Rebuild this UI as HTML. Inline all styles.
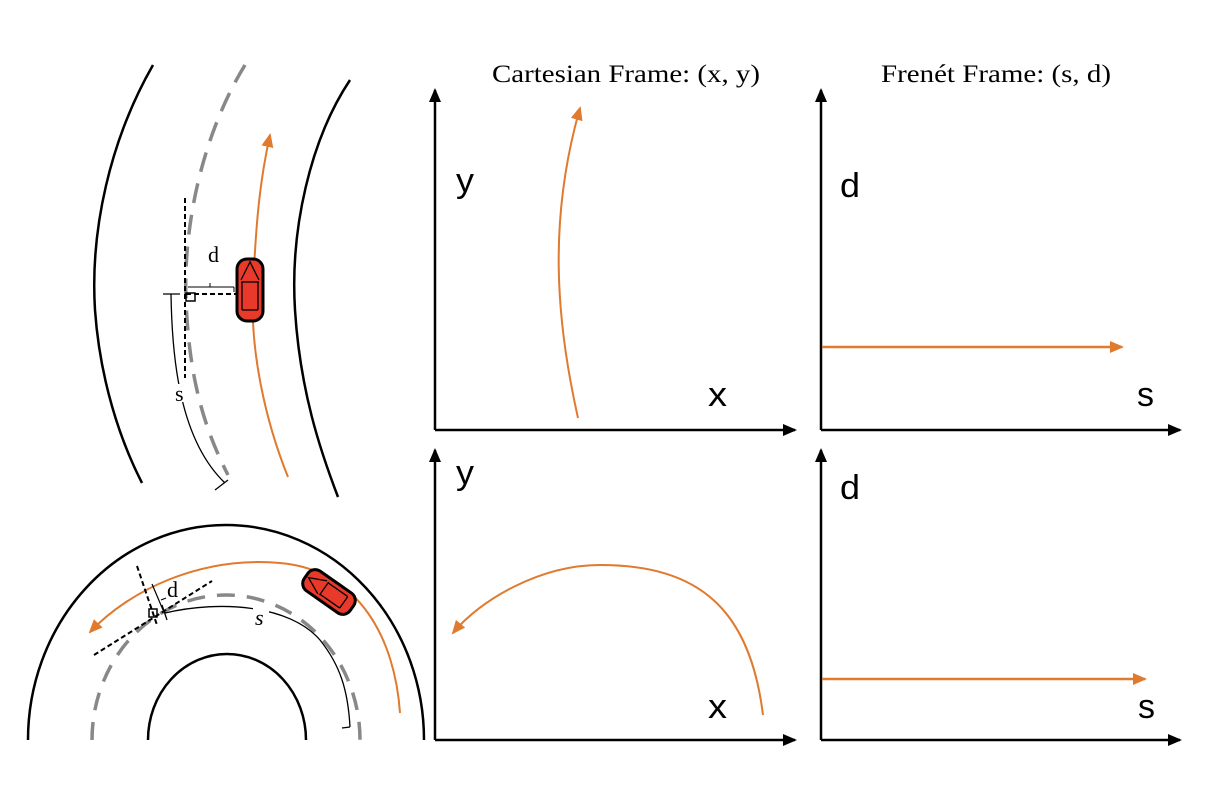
<!DOCTYPE html>
<html><head><meta charset="utf-8"><style>html,body{margin:0;padding:0;background:#fff}svg{display:block}</style></head>
<body>
<svg width="1208" height="796" viewBox="0 0 1208 796" xmlns="http://www.w3.org/2000/svg">
<defs>
<marker id="ab" markerWidth="14" markerHeight="12" refX="12" refY="6" orient="auto" markerUnits="userSpaceOnUse"><path d="M0,0 L14,6 L0,12 z" fill="#000"/></marker>
<marker id="ao" markerWidth="14" markerHeight="12" refX="12" refY="6" orient="auto" markerUnits="userSpaceOnUse"><path d="M0,0 L14,6 L0,12 z" fill="#e07a2e"/></marker>
</defs>
<g font-family="'Liberation Serif',serif" font-size="25" fill="#000">
<text x="492" y="82" textLength="268" lengthAdjust="spacingAndGlyphs">Cartesian Frame: (x, y)</text>
<text x="881" y="82" textLength="230" lengthAdjust="spacingAndGlyphs">Frenét Frame: (s, d)</text>
</g>
<g stroke="#000" stroke-width="2.5" fill="none">
<path d="M435,430 L435,90" marker-end="url(#ab)"/>
<path d="M435,430 L795,430" marker-end="url(#ab)"/>
<path d="M821,430 L821,90" marker-end="url(#ab)"/>
<path d="M821,430 L1180,430" marker-end="url(#ab)"/>
<path d="M435,740 L435,450" marker-end="url(#ab)"/>
<path d="M435,740 L795,740" marker-end="url(#ab)"/>
<path d="M821,740 L821,450" marker-end="url(#ab)"/>
<path d="M821,740 L1180,740" marker-end="url(#ab)"/>
</g>
<g font-family="'Liberation Sans',sans-serif" font-size="34" fill="#000">
<text x="456" y="192" textLength="18" lengthAdjust="spacingAndGlyphs">y</text><text x="708" y="406" textLength="19" lengthAdjust="spacingAndGlyphs">x</text>
<text x="840" y="197" textLength="20" lengthAdjust="spacingAndGlyphs">d</text><text x="1137" y="406" textLength="17" lengthAdjust="spacingAndGlyphs">s</text>
<text x="456" y="484" textLength="18" lengthAdjust="spacingAndGlyphs">y</text><text x="708" y="718" textLength="19" lengthAdjust="spacingAndGlyphs">x</text>
<text x="840" y="499" textLength="20" lengthAdjust="spacingAndGlyphs">d</text><text x="1138" y="718" textLength="17" lengthAdjust="spacingAndGlyphs">s</text>
</g>
<g stroke="#e07a2e" stroke-width="2" fill="none">
<path d="M578,418 C556,320 548,220 580,108" marker-end="url(#ao)"/>
<path d="M822,347 L1122,347" stroke-width="2.5" marker-end="url(#ao)"/>
<path d="M822,679 L1145,679" stroke-width="2.5" marker-end="url(#ao)"/>
<path d="M763,715 C750,610 700,565 600,565 C540,565 480,600 453,633" marker-end="url(#ao)"/>
</g>
<g fill="none">
<path d="M153,65 C110,140 90,230 95,310 C100,380 120,440 142,483" stroke="#000" stroke-width="2.5"/>
<path d="M350,80 C310,140 290,230 295,310 C300,390 320,450 338,497" stroke="#000" stroke-width="2.5"/>
<path d="M245,65 C205,130 183,220 186,300 C189,380 205,430 228,475" stroke="#888" stroke-width="3.5" stroke-dasharray="20,12"/>
<path d="M288,477 C265,420 250,350 253,290 C256,220 260,180 270,135" stroke="#e07a2e" stroke-width="2" marker-end="url(#ao)"/>
<path d="M185,198 L185,378" stroke="#000" stroke-width="2" stroke-dasharray="5,3"/>
<path d="M186,294 L237,294" stroke="#000" stroke-width="2" stroke-dasharray="5,3"/>
<rect x="186" y="293" width="9" height="8" stroke="#000" stroke-width="1.5"/>
<path d="M188,287 L234,287 M210,283 L210,287 M234,287 L234,292" stroke="#000" stroke-width="1"/>
<path d="M163,294 L180,294 M171,294 C172,360 180,440 225,483 M215,490 L228,480" stroke="#000" stroke-width="1.3"/>
</g>
<rect x="174" y="384" width="14" height="18" fill="#fff"/>
<text x="175" y="401" font-family="'Liberation Serif',serif" font-size="22">s</text>
<text x="208" y="262" font-family="'Liberation Serif',serif" font-size="22">d</text>
<g transform="translate(250,290)">
<rect x="-13" y="-31" width="26" height="62" rx="10" fill="#e8392a" stroke="#000" stroke-width="3"/>
<path d="M-9,-10 L0,-28 L9,-10 M-9,-8 L9,-8 M-8,20 L8,20 M-8,-8 L-8,20 M8,-8 L8,20" stroke="#000" stroke-width="1.3" fill="none"/>
</g>
<g fill="none">
<path d="M28,740 A198,215 0 0 1 424,740" stroke="#000" stroke-width="2.5"/>
<path d="M148,740 A79,86 0 0 1 306,740" stroke="#000" stroke-width="2.5"/>
<path d="M92,740 A134,145 0 0 1 360,740" stroke="#888" stroke-width="3.5" stroke-dasharray="18,12"/>
<path d="M400,713 C395,640 360,570 280,563 C200,556 130,590 90,632" stroke="#e07a2e" stroke-width="2" marker-end="url(#ao)"/>
<path d="M137,566 L157,625" stroke="#000" stroke-width="2" stroke-dasharray="5,3"/>
<path d="M94,655 L212,581" stroke="#000" stroke-width="2" stroke-dasharray="5,3"/>
<rect x="149" y="609" width="8" height="8" stroke="#000" stroke-width="1.5"/>
<path d="M152,584 L163,610 M161,600 L166,598" stroke="#000" stroke-width="1.2"/>
<path d="M162,605 L167,620 M165,613 C220,600 290,605 320,640 C340,665 348,690 350,727 M350,727 L342,728" stroke="#000" stroke-width="1.3"/>
</g>
<rect x="253" y="606" width="16" height="20" fill="#fff"/>
<text x="255" y="625" font-family="'Liberation Serif',serif" font-style="italic" font-size="22">s</text>
<text x="167" y="597" font-family="'Liberation Serif',serif" font-size="22">d</text>
<g transform="translate(329,592) rotate(-55)">
<rect x="-12" y="-28" width="24" height="56" rx="9" fill="#e8392a" stroke="#000" stroke-width="3"/>
<path d="M-8,-8 L0,-25 L8,-8 M-8,-6 L8,-6 M-7,18 L7,18 M-7,-6 L-7,18 M7,-6 L7,18" stroke="#000" stroke-width="1.3" fill="none"/>
</g>
</svg>
</body></html>
